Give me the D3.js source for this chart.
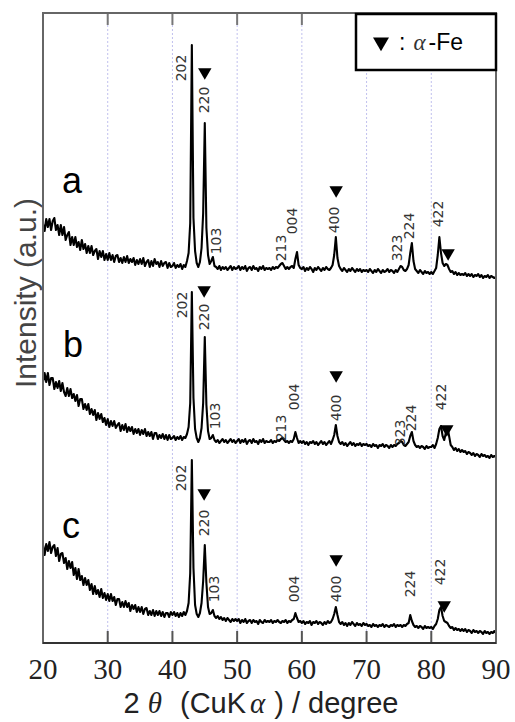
<!DOCTYPE html>
<html>
<head>
<meta charset="utf-8">
<script src="https://cdn.jsdelivr.net/npm/d3@7"></script>
<style>
  body { margin: 0; background: #fff; }
  svg { display: block; }
</style>
</head>
<body>
<svg id="chart"></svg>
<script>
// XRD patterns, sampled every 0.25 deg from 20 to 90 (2theta)
const thetaStart = 20;
const thetaStep = 0.25;

// intensity (a.u., curves already stacked)
const intensityA = [
  419,412,424,416,424,413,422,425,413,418,408,418,408,416,403,408,411,398,406,398,
  406,396,401,393,403,394,399,390,397,390,397,388,392,394,384,392,386,392,383,389,
  383,390,383,388,381,387,388,381,385,380,386,381,387,380,384,381,385,378,383,379,
  384,379,385,377,381,383,376,382,377,384,379,381,376,382,377,380,381,375,380,376,
  377,380,375,378,376,379,374,378,376,382,390,420,598,425,392,380,376,381,395,430,
  520,415,388,379,382,386,377,376,374,377,373,376,374,376,373,375,377,373,376,374,
  375,377,373,376,374,377,372,375,376,373,377,374,375,372,376,374,377,373,375,374,
  375,373,376,374,376,375,377,379,380,377,374,376,374,376,377,375,384,391,378,375,
  374,376,372,375,373,376,374,371,375,373,376,374,372,375,373,376,374,373,375,378,
  388,406,385,377,374,372,375,373,371,374,372,375,373,371,374,372,374,371,373,372,
  373,371,374,372,370,373,371,374,372,370,373,371,372,374,371,373,372,370,373,371,
  374,377,376,373,372,374,378,390,400,382,374,372,370,373,371,369,372,370,371,369,
  371,369,372,375,388,406,390,380,377,379,378,374,371,372,369,371,368,370,368,369,
  368,370,367,369,367,369,366,368,367,369,366,368,365,367,366,368,365,367,366,365,
  366
];
const intensityB = [
  261,270,261,270,258,265,265,254,261,255,262,252,260,251,247,255,247,254,245,249,
  242,248,237,244,244,234,239,233,239,229,234,228,233,223,230,224,229,221,225,218,
  224,216,222,217,222,215,218,220,212,218,213,219,211,216,212,216,209,214,210,214,
  208,213,209,214,207,211,207,211,204,210,210,204,208,205,209,204,208,203,208,204,
  205,207,203,206,204,207,203,206,205,209,216,240,351,245,214,205,201,205,215,240,
  306,238,212,204,205,208,203,201,203,200,202,204,201,203,200,202,204,201,203,200,
  202,204,200,203,201,204,199,202,203,200,204,201,202,199,203,201,204,200,202,201,
  201,203,200,202,201,203,202,204,205,203,201,202,200,202,201,204,211,205,200,202,
  200,202,199,201,198,201,200,202,199,201,198,200,202,199,201,198,200,202,199,203,
  208,218,207,201,199,201,198,200,197,199,201,198,200,197,199,198,200,197,199,198,
  199,197,198,196,199,197,198,195,198,197,199,196,198,197,195,198,196,198,197,199,
  200,202,201,198,197,199,201,207,211,202,198,196,197,195,197,196,194,197,195,196,
  196,198,195,199,205,214,217,207,203,210,216,207,198,196,193,195,192,194,191,193,
  191,192,189,191,190,188,190,187,189,188,186,189,187,188,186,187,185,188,186,187,
  186
];
const intensityC = [
  98,88,99,92,101,90,96,98,87,95,82,89,90,80,85,74,82,75,81,68,
  75,64,74,63,67,58,65,58,63,53,59,49,57,49,53,46,54,45,50,43,
  49,42,49,42,46,38,44,44,36,41,36,42,36,40,32,38,34,38,31,36,
  31,36,29,34,35,28,32,28,33,27,32,28,32,27,31,26,30,30,26,31,
  28,31,27,30,26,30,27,31,28,32,40,70,183,75,38,29,26,30,40,62,
  98,60,36,29,30,33,27,25,27,24,26,23,25,22,25,23,21,24,22,24,
  22,24,20,23,21,24,20,22,23,20,23,21,22,19,23,21,20,23,21,22,
  21,23,20,22,21,23,21,20,22,21,23,20,22,21,23,24,30,25,21,22,
  20,22,19,21,20,22,18,21,20,22,19,21,20,18,21,19,22,20,21,24,
  29,36,28,21,19,21,18,20,17,20,18,21,19,17,20,18,19,17,20,18,
  19,17,18,16,19,17,18,16,18,17,19,16,18,17,16,18,17,19,16,18,
  17,18,16,18,17,19,20,28,22,18,16,17,15,17,16,14,17,15,16,15,
  16,14,17,19,24,33,36,27,22,21,20,17,15,16,13,15,13,14,12,14,
  12,14,11,13,12,10,13,11,12,10,12,11,9,12,10,11,9,11,10,12,
  10
];

// peak indices: [hkl, 2theta, intensity where the label sits]
const peaksA = [
  ["202", 41.4, 575], ["220", 44.9, 543], ["103", 46.7, 402],
  ["213", 56.8, 395], ["004", 58.5, 422], ["400", 65.0, 423],
  ["323", 74.7, 395], ["224", 76.5, 417], ["422", 81.1, 429]
];
const peaksB = [
  ["202", 41.5, 338], ["220", 44.9, 326], ["103", 46.6, 227],
  ["213", 56.8, 215], ["004", 58.8, 246], ["400", 65.3, 235],
  ["323", 75.2, 210], ["224", 76.9, 225], ["422", 81.5, 246]
];
const peaksC = [
  ["202", 41.3, 165], ["220", 44.9, 120], ["103", 46.4, 54],
  ["004", 58.8, 54], ["400", 65.3, 54], ["224", 76.7, 59],
  ["422", 81.4, 71]
];

// alpha-Fe markers: [2theta, intensity]
const feA = [[45.0, 571], [65.3, 453], [82.6, 390]];
const feB = [[44.9, 353], [65.3, 268], [82.4, 214]];
const feC = [[44.9, 150], [65.3, 84], [82.0, 38]];

const sampleNames = ["a", "b", "c"];
const xTicks = [20, 30, 40, 50, 60, 70, 80, 90];
const gridTicks = [30, 40, 50, 60, 70, 80];

const width = 515, height = 722;
const m = { left: 43, right: 496, top: 13, bottom: 643 };

const svg = d3.select("#chart").attr("width", width).attr("height", height);

const x = d3.scaleLinear().domain([20, 90]).range([m.left, m.right]);
const y = d3.scaleLinear().domain([0, 630]).range([m.bottom, m.top]);

svg.append("defs").append("clipPath").attr("id", "plot")
  .append("rect").attr("x", m.left).attr("y", m.top)
  .attr("width", m.right - m.left).attr("height", m.bottom - m.top);

// dotted grid
svg.append("g").selectAll("line").data(gridTicks).join("line")
  .attr("x1", d => x(d)).attr("x2", d => x(d))
  .attr("y1", m.top).attr("y2", m.bottom)
  .attr("stroke", "#c0c0ee").attr("stroke-width", 1)
  .attr("stroke-dasharray", "2,2");

// patterns (thick stroke so the noise reads as a band like the scan)
const line = d3.line()
  .x((d, i) => x(thetaStart + i * thetaStep))
  .y(d => y(d));

svg.append("g").attr("clip-path", "url(#plot)")
  .selectAll("path").data([intensityA, intensityB, intensityC]).join("path")
  .attr("d", line)
  .attr("fill", "none")
  .attr("stroke", "#000")
  .attr("stroke-width", 2.1)
  .attr("stroke-linejoin", "round");

// hkl labels
[peaksA, peaksB, peaksC].forEach(peaks => {
  svg.append("g").selectAll("text").data(peaks).join("text")
    .attr("transform", d => `translate(${x(d[1])},${y(d[2])}) rotate(-90)`)
    .attr("text-anchor", "middle")
    .attr("dominant-baseline", "central")
    .attr("font-family", "DejaVu Sans, sans-serif")
    .attr("font-size", 14)
    .attr("fill", "#333")
    .text(d => d[0]);
});

// alpha-Fe triangles
const tri = d3.symbol().type(d3.symbolTriangle).size(78);
[feA, feB, feC].forEach(marks => {
  svg.append("g").selectAll("path").data(marks).join("path")
    .attr("d", tri)
    .attr("transform", d => `translate(${x(d[0])},${y(d[1])}) rotate(180)`)
    .attr("fill", "#000");
});

// sample letters
const letterPos = [[62, 193], [63, 357], [62, 538]];
svg.append("g").selectAll("text").data(sampleNames).join("text")
  .attr("x", (d, i) => letterPos[i][0])
  .attr("y", (d, i) => letterPos[i][1])
  .attr("font-family", "Liberation Sans, Arial, sans-serif")
  .attr("font-size", 36)
  .attr("fill", "#000")
  .text(d => d);

// ticks
svg.append("g").selectAll("line").data(xTicks).join("line")
  .attr("x1", d => x(d)).attr("x2", d => x(d))
  .attr("y1", m.bottom).attr("y2", m.bottom - 12)
  .attr("stroke", "#555").attr("stroke-width", 2);
svg.append("g").selectAll("line").data(xTicks).join("line")
  .attr("x1", d => x(d)).attr("x2", d => x(d))
  .attr("y1", m.top).attr("y2", m.top + 12)
  .attr("stroke", "#777").attr("stroke-width", 2);

// frame
svg.append("rect")
  .attr("x", m.left).attr("y", m.top)
  .attr("width", m.right - m.left).attr("height", m.bottom - m.top)
  .attr("fill", "none").attr("stroke", "#666").attr("stroke-width", 2);
svg.append("line")
  .attr("x1", m.left).attr("x2", m.right).attr("y1", m.bottom).attr("y2", m.bottom)
  .attr("stroke", "#333").attr("stroke-width", 2);

// tick labels
svg.append("g").selectAll("text").data(xTicks).join("text")
  .attr("x", d => x(d)).attr("y", 679)
  .attr("text-anchor", "middle")
  .attr("font-family", "Liberation Serif, Times New Roman, serif")
  .attr("font-size", 29)
  .attr("fill", "#222")
  .text(d => d);

// x title
const title = svg.append("text")
  .attr("x", 261).attr("y", 713)
  .attr("text-anchor", "middle")
  .attr("font-family", "Liberation Sans, Arial, sans-serif")
  .attr("font-size", 29)
  .attr("fill", "#222");
title.append("tspan").text("2");
title.append("tspan").attr("dx", 8).attr("font-family", "Liberation Serif, serif")
  .attr("font-style", "italic").text("θ");
title.append("tspan").attr("dx", 18).text("(CuK");
title.append("tspan").attr("dx", 4).attr("font-family", "Liberation Serif, serif")
  .attr("font-style", "italic").text("α");
title.append("tspan").attr("dx", 9).text(") / degree");

// y title
svg.append("text")
  .attr("transform", "translate(36,293) rotate(-90)")
  .attr("text-anchor", "middle")
  .attr("font-family", "Liberation Sans, Arial, sans-serif")
  .attr("font-size", 30)
  .attr("fill", "#444")
  .text("Intensity (a.u.)");

// legend
const legend = svg.append("g");
legend.append("rect")
  .attr("x", 356).attr("y", 14).attr("width", 140).attr("height", 56)
  .attr("fill", "#fff").attr("stroke", "#000").attr("stroke-width", 2.5);
legend.append("path")
  .attr("d", d3.symbol().type(d3.symbolTriangle).size(110))
  .attr("transform", "translate(381,42) rotate(180)")
  .attr("fill", "#000");
const lt = legend.append("text")
  .attr("x", 399).attr("y", 50)
  .attr("font-family", "Liberation Sans, Arial, sans-serif")
  .attr("font-size", 23)
  .attr("fill", "#000");
lt.append("tspan").text(":");
lt.append("tspan").attr("dx", 8).attr("font-family", "Liberation Serif, serif")
  .attr("font-style", "italic").attr("fill", "#333").text("α");
lt.append("tspan").attr("dx", 3).text("-Fe");
</script>
</body>
</html>
